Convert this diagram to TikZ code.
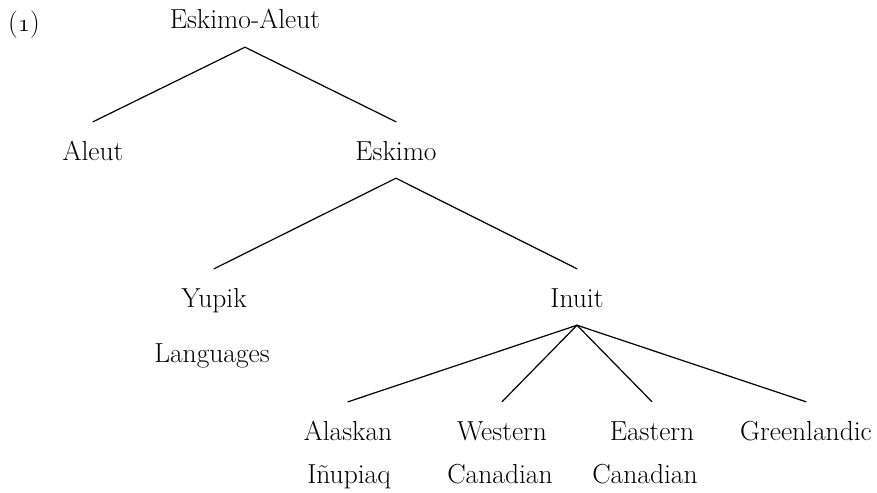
\documentclass[tikz,border=0pt]{standalone}
\begin{document}
\begin{tikzpicture}[x=1pt,y=-1pt,
  lab/.style={anchor=base,inner xsep=0pt,inner ysep=18pt,text height=20pt,text depth=0pt,
    font=\fontsize{27.5}{32}\selectfont},
  plain/.style={anchor=base,inner sep=0pt,font=\fontsize{27.5}{32}\selectfont},
  branch/.style={line width=1.2pt,line cap=round}]
\useasboundingbox (0,0) rectangle (877,492);
\node[plain] (num) at (24,32) {({\usefont{OML}{lmm}{m}{it}1})};
\node[lab] (ea) at (245,29) {Eskimo-Aleut};
\node[lab] (aleut) at (93,160) {Aleut};
\node[lab] (eskimo) at (396,160) {Eskimo};
\node[lab] (yupik) at (214,307) {Yupik};
\node[plain] (lang) at (212,362) {Languages};
\node[lab] (inuit) at (577,307) {Inuit};
\node[lab] (alaskan) at (348,440) {Alaskan};
\node[plain] (inupiaq) at (349,483) {Iñupiaq};
\node[lab] (western) at (502,440) {Western};
\node[plain] (wcan) at (500,483) {Canadian};
\node[lab] (eastern) at (652,440) {Eastern};
\node[plain] (ecan) at (645,483) {Canadian};
\node[lab] (green) at (806,440) {Greenlandic};
\draw[branch] (aleut.north) -- (ea.south) -- (eskimo.north);
\draw[branch] (yupik.north) -- (eskimo.south) -- (inuit.north);
\draw[branch] (inuit.south) -- (alaskan.north);
\draw[branch] (inuit.south) -- (western.north);
\draw[branch] (inuit.south) -- (eastern.north);
\draw[branch] (inuit.south) -- (green.north);
\end{tikzpicture}
\end{document}
